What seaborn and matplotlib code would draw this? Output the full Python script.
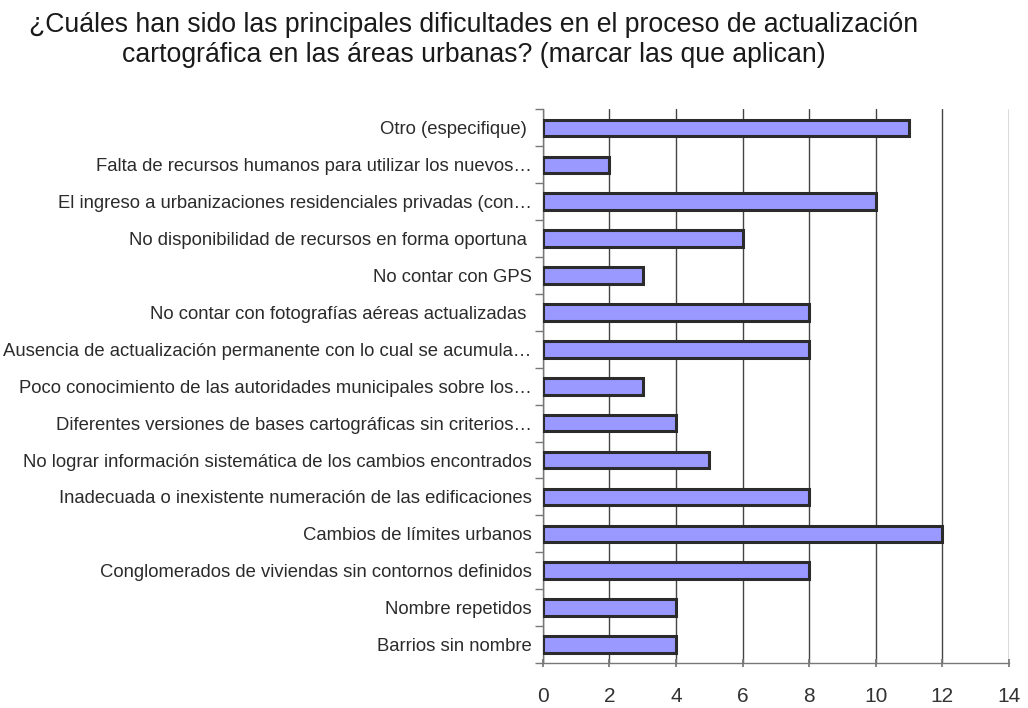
import matplotlib
matplotlib.use("Agg")
import matplotlib.pyplot as plt
import seaborn as sns
import pandas as pd

# Categories, top to bottom as shown in the chart
categorias = [
    "Otro (especifique) ",
    "Falta de recursos humanos para utilizar los nuevos…",
    "El ingreso a urbanizaciones residenciales privadas (con…",
    "No disponibilidad de recursos en forma oportuna ",
    "No contar con GPS",
    "No contar con fotografías aéreas actualizadas ",
    "Ausencia de actualización permanente con lo cual se acumula…",
    "Poco conocimiento de las autoridades municipales sobre los…",
    "Diferentes versiones de bases cartográficas sin criterios…",
    "No lograr información sistemática de los cambios encontrados",
    "Inadecuada o inexistente numeración de las edificaciones",
    "Cambios de límites urbanos",
    "Conglomerados de viviendas sin contornos definidos",
    "Nombre repetidos",
    "Barrios sin nombre",
]
respuestas = [11, 2, 10, 6, 3, 8, 8, 3, 4, 5, 8, 12, 8, 4, 4]
x_ticks = [0, 2, 4, 6, 8, 10, 12, 14]

titulo = ("¿Cuáles han sido las principales dificultades en el proceso de actualización\n"
          "cartográfica en las áreas urbanas? (marcar las que aplican)")

df = pd.DataFrame({"categoria": categorias, "respuestas": respuestas})

sns.set_theme(style="white")
plt.rcParams["font.family"] = ["Liberation Sans", "DejaVu Sans"]

fig = plt.figure(figsize=(10.28, 7.08), dpi=100)
ax = fig.add_axes([0.528, 0.0636, 0.4535, 0.7818])

sns.barplot(data=df, x="respuestas", y="categoria", orient="h",
            color="#9999FF", saturation=1, width=0.45,
            edgecolor="#2b2b2b", linewidth=2.2, ax=ax, zorder=3)

ax.set_xlim(0, 14)
ax.set_xticks(x_ticks)
ax.set_ylim(len(categorias) - 0.5, -0.5)
ax.set_xlabel("")
ax.set_ylabel("")

# vertical grid lines
ax.grid(axis="x", color="#444444", linewidth=1)
ax.grid(axis="y", visible=False)

for s in ["top", "right"]:
    ax.spines[s].set_visible(False)
for s in ["left", "bottom"]:
    ax.spines[s].set_color("#777777")
    ax.spines[s].set_linewidth(1)

# category boundary ticks on the y axis
ax.set_yticks([i - 0.5 for i in range(len(categorias) + 1)], minor=True)
ax.tick_params(axis="y", which="minor", length=6, color="#777777", left=True)
ax.tick_params(axis="y", which="major", length=0, pad=8,
               labelsize=13.3, labelcolor="#2b2b2b")
ax.tick_params(axis="x", which="major", length=6, direction="inout",
               color="#777777", bottom=True, pad=14,
               labelsize=15, labelcolor="#333333")

fig.text(0.4606, 0.983, titulo, ha="center", va="top",
         fontsize=19.2, color="#1a1a1a", linespacing=1.18)

fig.savefig("out.png", dpi=100)
